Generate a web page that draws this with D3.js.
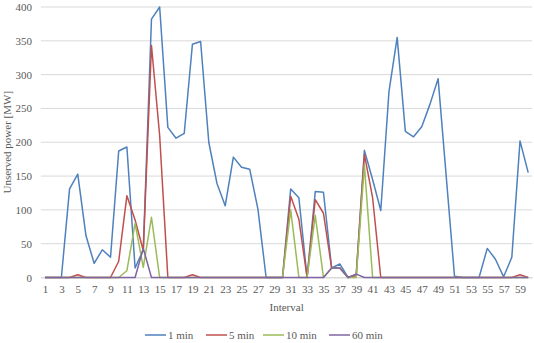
<!DOCTYPE html>
<html>
<head>
<meta charset="utf-8">
<script src="https://cdn.jsdelivr.net/npm/d3@7"></script>
<style>
  html, body { margin: 0; padding: 0; background: #fff; }
  svg { display: block; }
  svg text { font-family: 'Liberation Serif', 'Times New Roman', 'DejaVu Serif', serif; }
</style>
</head>
<body>
<svg id="chart" width="534" height="343"></svg>
<script>
// Interval numbers 1..60
const intervals = Array.from({length: 60}, (_, i) => i + 1);

// Unserved power [MW] per interval, one array per time resolution
const min1 = [0, 0, 0, 131, 153, 62, 21, 41, 30, 187,
              193, 14, 41, 382, 400, 222, 206, 213, 345, 349,
              200, 139, 106, 178, 163, 160, 101, 0, 0, 0,
              131, 118, 0, 127, 126, 14, 20, 0, 4, 188,
              145, 99, 275, 355, 216, 208, 223, 256, 294, 148,
              2, 0, 0, 0, 43, 27, 1, 30, 202, 155];
const min5 = [0, 0, 0, 0, 4, 0, 0, 0, 0, 24,
              121, 85, 40, 343, 210, 0, 0, 0, 4, 0,
              0, 0, 0, 0, 0, 0, 0, 0, 0, 0,
              120, 86, 0, 115, 95, 14, 14, 0, 3, 182,
              118, 0, 0, 0, 0, 0, 0, 0, 0, 0,
              0, 0, 0, 0, 0, 0, 0, 0, 4, 0];
const min10 = [0, 0, 0, 0, 0, 0, 0, 0, 0, 0,
               10, 80, 15, 89, 0, 0, 0, 0, 0, 0,
               0, 0, 0, 0, 0, 0, 0, 0, 0, 0,
               100, 0, 0, 92, 0, 14, 14, 0, 0, 166,
               0, 0, 0, 0, 0, 0, 0, 0, 0, 0,
               0, 0, 0, 0, 0, 0, 0, 0, 0, 0];
const min60 = [0, 0, 0, 0, 0, 0, 0, 0, 0, 0,
               0, 0, 43, 0, 0, 0, 0, 0, 0, 0,
               0, 0, 0, 0, 0, 0, 0, 0, 0, 0,
               0, 0, 0, 0, 0, 14, 14, 0, 5, 0,
               0, 0, 0, 0, 0, 0, 0, 0, 0, 0,
               0, 0, 0, 0, 0, 0, 0, 0, 0, 0];

const seriesNames = ["1 min", "5 min", "10 min", "60 min"];
const seriesColors = ["#4F81BD", "#C0504D", "#9BBB59", "#8064A2"];
const seriesValues = [min1, min5, min10, min60];

const yTicks = [0, 50, 100, 150, 200, 250, 300, 350, 400];
const xTickLabels = intervals.filter(d => d % 2 === 1);

const svg = d3.select("#chart");
const plot = { left: 40.9, right: 532.3, top: 7, bottom: 277.5 };
const textColor = "#595959";
const fontStack = "'Liberation Serif', 'Times New Roman', 'DejaVu Serif', serif";

const x = d3.scalePoint()
  .domain(intervals)
  .range([plot.left, plot.right])
  .padding(0.5);

const y = d3.scaleLinear()
  .domain([0, 400])
  .range([plot.bottom, plot.top]);

// horizontal gridlines
svg.append("g")
  .selectAll("line")
  .data(yTicks)
  .join("line")
  .attr("x1", plot.left)
  .attr("x2", plot.right)
  .attr("y1", d => y(d))
  .attr("y2", d => y(d))
  .attr("stroke", "#D9D9D9")
  .attr("stroke-width", 1);

// y axis labels
const yAxis = svg.append("g")
  .attr("transform", `translate(${plot.left},0)`)
  .call(d3.axisLeft(y).tickValues(yTicks).tickSize(0).tickPadding(9))
  .attr("font-family", fontStack)
  .attr("font-size", 11);
yAxis.select(".domain").remove();
yAxis.selectAll("text").attr("fill", textColor);

// x axis labels
const xAxis = svg.append("g")
  .attr("transform", `translate(0,${plot.bottom})`)
  .call(d3.axisBottom(x).tickValues(xTickLabels).tickSize(0).tickPadding(8))
  .attr("font-family", fontStack)
  .attr("font-size", 11);
xAxis.select(".domain").attr("stroke", "#D9D9D9");
xAxis.selectAll("text").attr("fill", textColor);

// axis titles
svg.append("text")
  .attr("x", (plot.left + plot.right) / 2)
  .attr("y", 311)
  .attr("text-anchor", "middle")
  .attr("fill", textColor)
  .style("font-size", "11px")
  .text("Interval");

svg.append("text")
  .attr("transform", `translate(11,${(plot.top + plot.bottom) / 2}) rotate(-90)`)
  .attr("text-anchor", "middle")
  .attr("fill", textColor)
  .style("font-size", "11px")
  .text("Unserved power [MW]");

// series lines
const line = d3.line()
  .x((d, i) => x(intervals[i]))
  .y(d => y(d));

svg.append("g")
  .selectAll("path")
  .data(seriesValues)
  .join("path")
  .attr("d", d => line(d))
  .attr("fill", "none")
  .attr("stroke", (d, i) => seriesColors[i])
  .attr("stroke-width", 1.5)
  .attr("stroke-linejoin", "round");

// legend
const legendX = [145, 206, 263, 329];
const legend = svg.append("g")
  .selectAll("g")
  .data(seriesNames)
  .join("g")
  .attr("transform", (d, i) => `translate(${legendX[i]},335)`);
legend.append("line")
  .attr("x1", 0).attr("x2", 21)
  .attr("y1", 0).attr("y2", 0)
  .attr("stroke", (d, i) => seriesColors[i])
  .attr("stroke-width", 1.5);
legend.append("text")
  .attr("x", 23)
  .attr("y", 3.5)
  .attr("fill", textColor)
  .style("font-size", "11px")
  .text(d => d);
</script>
</body>
</html>
